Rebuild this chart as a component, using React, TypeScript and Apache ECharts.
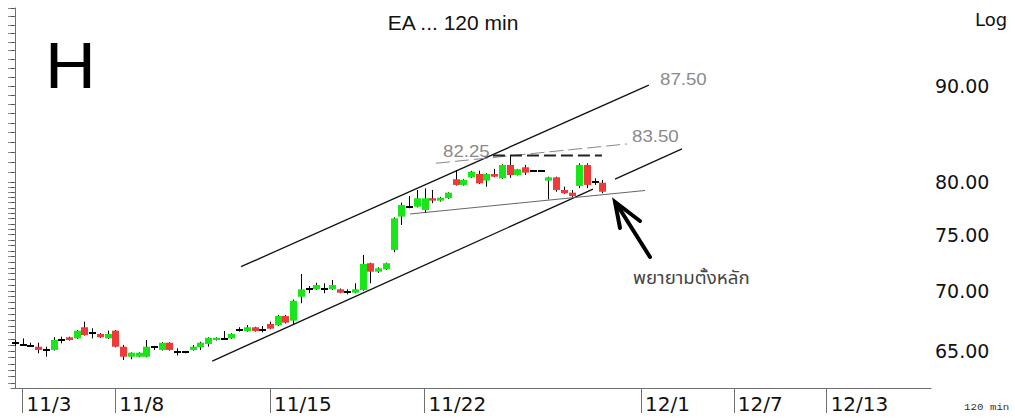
import React, { useEffect, useRef } from 'react';
import * as echarts from 'echarts';

// ---- data ----
const barCount = 119;
const tickIndices = [1, 13, 33, 53, 81, 93, 105];
const tickLabels = ['11/3', '11/8', '11/15', '11/22', '12/1', '12/7', '12/13'];
const priceLabels = [65, 70, 75, 80, 90];
const yMin = 62.13;
const yMax = 99.04;

// [open, close, low, high] per 120-min bar
const candles: number[][] = [
  [65.63, 65.63, 65.42, 65.9],
  [65.5, 65.5, 65.5, 66.03],
  [65.42, 65.42, 65.42, 65.68],
  [65.36, 65.1, 64.83, 65.68],
  [65.1, 65.1, 64.56, 65.36],
  [65.1, 65.9, 65.05, 66.12],
  [65.9, 65.9, 65.63, 66.17],
  [66.12, 65.9, 65.85, 66.17],
  [66.03, 66.66, 65.98, 66.71],
  [66.94, 66.3, 66.25, 67.4],
  [66.45, 66.45, 66.03, 66.85],
  [66.39, 66.12, 66.08, 66.45],
  [66.03, 66.39, 65.98, 66.66],
  [66.66, 65.36, 65.31, 66.71],
  [65.36, 64.56, 64.3, 65.5],
  [64.56, 64.88, 64.36, 64.91],
  [64.56, 64.88, 64.52, 64.91],
  [64.56, 65.36, 64.52, 65.9],
  [65.31, 65.31, 65.1, 65.42],
  [65.1, 65.68, 65.05, 65.72],
  [65.68, 65.1, 65.05, 65.72],
  [64.96, 64.96, 64.66, 65.23],
  [64.91, 64.91, 64.83, 64.96],
  [65.1, 65.36, 65.05, 65.5],
  [65.31, 65.68, 65.1, 65.76],
  [65.58, 66.08, 65.36, 66.12],
  [65.9, 66.08, 65.85, 66.12],
  [65.98, 65.98, 65.9, 66.63],
  [66.03, 66.39, 65.98, 66.45],
  [66.74, 66.74, 66.58, 66.94],
  [66.63, 66.94, 66.58, 67.12],
  [66.94, 66.63, 66.58, 66.98],
  [66.71, 66.71, 66.52, 67.04],
  [67.21, 66.82, 66.77, 67.4],
  [67.1, 67.87, 67.04, 67.95],
  [67.87, 67.32, 67.25, 67.95],
  [67.48, 69.15, 67.21, 69.25],
  [69.49, 70.13, 68.94, 71.46],
  [70.13, 70.13, 69.79, 70.41],
  [70.13, 70.5, 70.07, 70.7],
  [70.13, 70.13, 69.79, 70.65],
  [70.13, 70.5, 70.07, 70.94],
  [70.13, 69.84, 69.79, 70.2],
  [69.92, 69.92, 69.7, 70.13],
  [69.84, 70.13, 69.79, 70.65],
  [70.07, 72.34, 70.0, 73.15],
  [72.41, 71.66, 70.65, 72.46],
  [71.66, 71.96, 71.56, 72.05],
  [71.87, 72.41, 71.8, 72.46],
  [73.6, 76.51, 73.39, 76.6],
  [76.67, 77.77, 75.89, 78.0],
  [77.61, 77.61, 77.46, 78.64],
  [77.61, 78.42, 77.55, 79.22],
  [77.3, 78.42, 77.04, 79.38],
  [78.42, 78.19, 77.94, 79.22],
  [78.19, 78.47, 78.1, 78.55],
  [78.42, 78.96, 78.36, 79.0],
  [80.27, 79.71, 79.65, 81.19],
  [79.71, 80.2, 79.65, 80.27],
  [80.46, 81.02, 80.4, 81.1],
  [80.79, 79.87, 79.8, 81.12],
  [80.13, 80.79, 79.54, 80.85],
  [80.79, 80.52, 80.46, 81.3],
  [80.36, 81.69, 80.3, 81.75],
  [81.69, 80.69, 80.4, 82.59],
  [80.69, 81.26, 80.65, 81.3],
  [81.46, 80.92, 80.69, 81.69],
  [81.12, 81.12, 81.02, 81.19],
  [81.12, 81.12, 81.02, 81.19],
  [80.13, 80.46, 78.32, 80.52],
  [80.46, 79.22, 79.05, 80.52],
  [79.22, 78.9, 78.85, 79.54],
  [78.96, 78.64, 78.55, 79.22],
  [79.61, 81.69, 79.4, 81.85],
  [81.69, 79.71, 79.4, 81.85],
  [80.03, 80.03, 79.71, 80.36],
  [79.93, 79.05, 78.9, 80.2],
];

// drawn trend lines: [bar index, price]
const upperChannel = [[29.25, 72.1], [82.0, 90.1]];
const lowerChannelA = [[25.53, 64.22], [74.78, 79.3]];
const lowerChannelB = [[77.63, 80.28], [86.29, 83.31]];
const supportLine = [[51.11, 76.92], [81.51, 79.17]];
const upperThinLine = [[54.48, 81.86], [79.18, 83.82]];
const resistanceLine = [[61.84, 82.64], [75.94, 82.64]];

const upColor = '#19e619';
const downColor = '#f03a3a';

export default function App() {
  const ref = useRef<HTMLDivElement>(null);
  useEffect(() => {
    if (!ref.current) return;
    const chart = echarts.init(ref.current, null, { renderer: 'svg' });

    const tickVals: number[] = [];
    for (let v = 62.5; v < 80; v += 0.5) tickVals.push(v);
    for (let v = 80; v <= 99; v += 1) tickVals.push(v);

    const categories = Array.from({ length: barCount }, (_, i) => String(i));
    const isTick = (i: number) => tickIndices.indexOf(i) >= 0;
    const candleData = candles.map((c, i) => [i, c[0], c[1], c[2], c[3]]);

    const lineSeries = (data: number[][], color: string, width: number, type: any) => ({
      type: 'line',
      xAxisIndex: 1,
      yAxisIndex: 0,
      data,
      symbol: 'none',
      silent: true,
      z: 1,
      lineStyle: { color, width, type },
    });

    const option: any = {
      animation: false,
      textStyle: { fontFamily: '"DejaVu Sans", Verdana, sans-serif' },
      grid: { left: 11, right: 84, top: 8, bottom: 30 },
      xAxis: [
        {
          type: 'category',
          data: categories,
          boundaryGap: true,
          axisLine: { lineStyle: { color: '#707070', width: 1 } },
          axisTick: {
            show: true,
            alignWithLabel: true,
            interval: (i: number) => isTick(i),
            length: 25,
            lineStyle: { color: '#707070' },
          },
          axisLabel: {
            interval: (i: number) => isTick(i),
            formatter: (v: string) => tickLabels[tickIndices.indexOf(Number(v))] || '',
            align: 'left',
            padding: [0, 0, 0, 4],
            margin: 6,
            fontFamily: '"DejaVu Sans", Verdana, sans-serif',
            fontSize: 20,
            color: '#111',
          },
          splitLine: { show: false },
        },
        { type: 'value', min: -0.5, max: barCount - 0.5, show: false },
      ],
      yAxis: [
        {
          type: 'log',
          logBase: 10,
          position: 'right',
          min: yMin,
          max: yMax,
          axisLine: { show: true, lineStyle: { color: '#707070' } },
          axisTick: { show: true, inside: true, length: 4, customValues: tickVals, lineStyle: { color: '#555' } },
          axisLabel: {
            customValues: priceLabels,
            formatter: (v: number) => Number(v).toFixed(2),
            margin: 4,
            fontFamily: '"DejaVu Sans", Verdana, sans-serif',
            fontSize: 19,
            color: '#111',
          },
          splitLine: { show: false },
        },
        {
          type: 'log',
          logBase: 10,
          position: 'left',
          min: yMin,
          max: yMax,
          axisLine: { show: false },
          axisTick: { show: true, inside: false, length: 3, customValues: tickVals, lineStyle: { color: '#8a8a8a' } },
          axisLabel: { show: false },
          splitLine: { show: false },
        },
      ],
      series: [
        lineSeries(upperChannel, '#111', 1.3, 'solid'),
        lineSeries(lowerChannelA, '#111', 1.3, 'solid'),
        lineSeries(lowerChannelB, '#111', 1.3, 'solid'),
        lineSeries(supportLine, '#666', 1, 'solid'),
        lineSeries(upperThinLine, '#888', 1, [14, 5]),
        lineSeries(resistanceLine, '#222', 2, [12, 5]),
        {
          type: 'custom',
          xAxisIndex: 0,
          yAxisIndex: 0,
          data: candleData,
          encode: { x: 0, y: [1, 2, 3, 4] },
          z: 3,
          renderItem: (params: any, api: any) => {
            const i = api.value(0);
            const o = api.value(1);
            const c = api.value(2);
            const l = api.value(3);
            const h = api.value(4);
            const pO = api.coord([i, o]);
            const pC = api.coord([i, c]);
            const pL = api.coord([i, l]);
            const pH = api.coord([i, h]);
            const cx = Math.round(pO[0]);
            const children: any[] = [
              {
                type: 'line',
                shape: { x1: cx + 0.5, y1: pH[1], x2: cx + 0.5, y2: pL[1] },
                style: { stroke: '#000', lineWidth: 1 },
              },
            ];
            if (o === c) {
              const yy = Math.round(pO[1]);
              children.push({
                type: 'line',
                shape: { x1: cx - 3, y1: yy, x2: cx + 4, y2: yy },
                style: { stroke: '#000', lineWidth: 2 },
              });
            } else {
              const top = Math.min(pO[1], pC[1]);
              const bot = Math.max(pO[1], pC[1]);
              children.push({
                type: 'rect',
                shape: { x: cx - 3, y: top, width: 7, height: Math.max(2, bot - top) },
                style: { fill: c > o ? upColor : downColor },
              });
            }
            return { type: 'group', children };
          },
        },
      ],
      graphic: [
        { type: 'text', x: 45, y: 66, scaleX: 1.1, style: { text: 'H', fontSize: 64, fontFamily: 'Liberation Sans', fill: '#000', verticalAlign: 'middle' } },
        { type: 'text', x: 453, y: 22, style: { text: 'EA ... 120 min', fontSize: 21, fontFamily: 'Liberation Sans', fill: '#111', align: 'center', verticalAlign: 'middle' } },
        { type: 'text', x: 975, y: 19, style: { text: 'Log', fontSize: 18, fontFamily: 'DejaVu Sans', fill: '#111', verticalAlign: 'middle' } },
        { type: 'text', x: 660, y: 79, scaleX: 1.1, style: { text: '87.50', fontSize: 17, fontFamily: 'Liberation Sans', fill: '#8a8a8a', verticalAlign: 'middle' } },
        { type: 'text', x: 632, y: 136, scaleX: 1.1, style: { text: '83.50', fontSize: 17, fontFamily: 'Liberation Sans', fill: '#8a8a8a', verticalAlign: 'middle' } },
        { type: 'text', x: 443, y: 151, scaleX: 1.1, style: { text: '82.25', fontSize: 17, fontFamily: 'Liberation Sans', fill: '#8a8a8a', verticalAlign: 'middle' } },
        { type: 'text', x: 633, y: 279, scaleX: 1.1, style: { text: 'พยายามตั้งหลัก', fontSize: 17, fontFamily: 'Tahoma, "Noto Sans Thai", "Noto Sans", sans-serif', fill: '#444', verticalAlign: 'middle' } },
        { type: 'text', x: 964, y: 408, scaleX: 1.2, style: { text: '120 min', fontSize: 9, fontFamily: 'Liberation Mono', fill: '#333', verticalAlign: 'middle' } },
        { type: 'polyline', shape: { points: [[650, 257], [616, 203]] }, style: { stroke: '#000', lineWidth: 4, lineCap: 'round' } },
        { type: 'polyline', shape: { points: [[640, 221], [615, 202], [620, 228]] }, style: { stroke: '#000', lineWidth: 4, lineCap: 'round', lineJoin: 'miter', fill: 'none' } },
      ],
    };

    chart.setOption(option);
    return () => chart.dispose();
  }, []);
  return <div ref={ref} style={{ position: 'absolute', left: 0, top: 0, width: 1015, height: 418 }} />;
}
